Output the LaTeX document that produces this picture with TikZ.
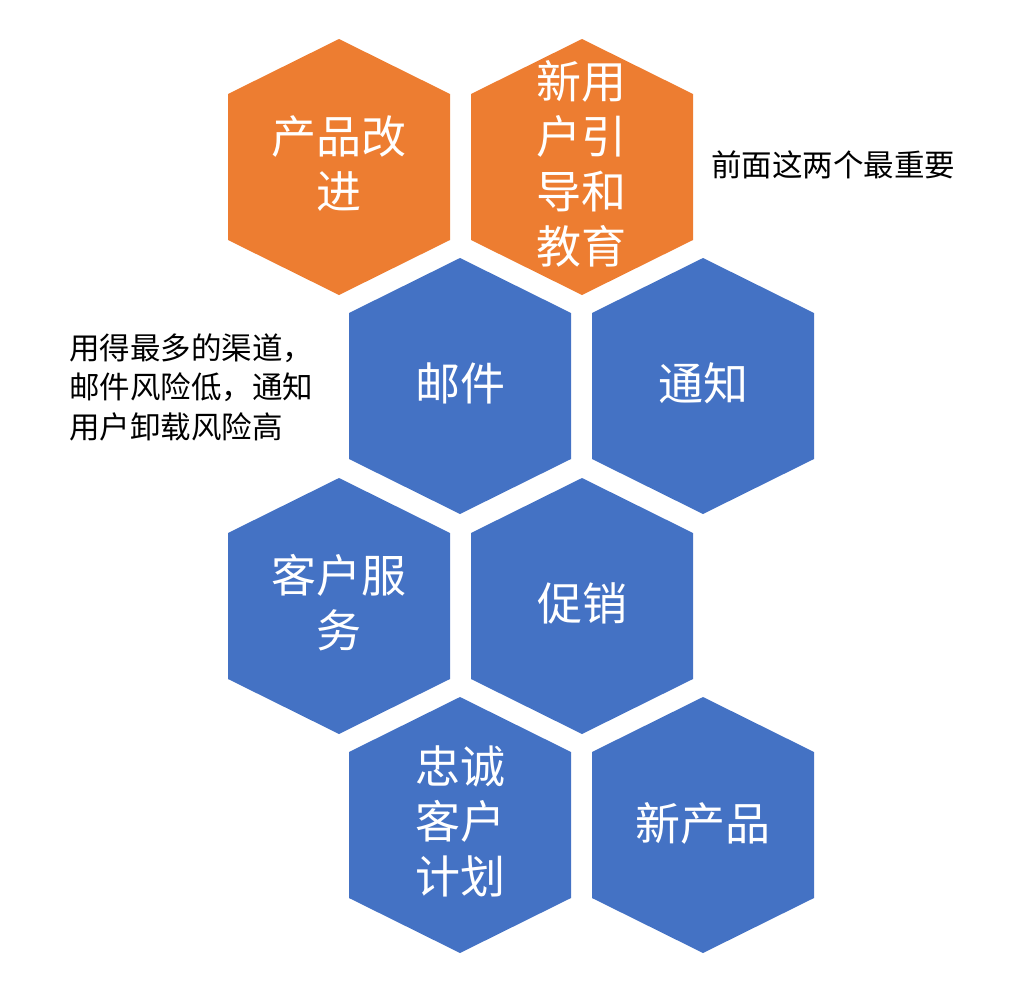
\documentclass[tikz,border=0pt]{standalone}
\usepackage{fontspec}
\setmainfont{Noto Sans CJK SC}
\definecolor{hexorange}{HTML}{ED7D31}
\definecolor{hexblue}{HTML}{4472C4}
\tikzset{
  hexlabel/.style={text=white, align=center, font=\fontsize{45}{55}\selectfont, inner sep=0pt},
  note/.style={text=black, align=left, font=\fontsize{30.5}{39.5}\selectfont, inner sep=0pt, anchor=west}
}
\newcommand{\hexshape}[3]{%
  \fill[#3] (#1,#2-128) -- (#1+111,#2-73) -- (#1+111,#2+73) -- (#1,#2+128) -- (#1-111,#2+73) -- (#1-111,#2-73) -- cycle;}
\begin{document}
\begin{tikzpicture}[x=1pt,y=-1pt]
\useasboundingbox (0,0) rectangle (1018,1004);
\hexshape{339}{167}{hexorange}
\hexshape{582}{167}{hexorange}
\hexshape{460}{386}{hexblue}
\hexshape{703}{386}{hexblue}
\hexshape{339}{606}{hexblue}
\hexshape{582}{606}{hexblue}
\hexshape{460}{825}{hexblue}
\hexshape{703}{825}{hexblue}
\node[hexlabel] (h1) at (339,164) {产品改\\进};
\node[hexlabel] (h2) at (581,164) {新用\\户引\\导和\\教育};
\node[hexlabel] (h3) at (460,383) {邮件};
\node[hexlabel] (h4) at (703,383) {通知};
\node[hexlabel] (h5) at (339,603) {客户服\\务};
\node[hexlabel] (h6) at (582,603) {促销};
\node[hexlabel] (h7) at (460,821) {忠诚\\客户\\计划};
\node[hexlabel] (h8) at (703,823) {新产品};
\node[note] (n1) at (711,165) {前面这两个最重要};
\node[note] (n2) at (69,387) {用得最多的渠道，\\邮件风险低，通知\\用户卸载风险高};
\end{tikzpicture}
\end{document}
